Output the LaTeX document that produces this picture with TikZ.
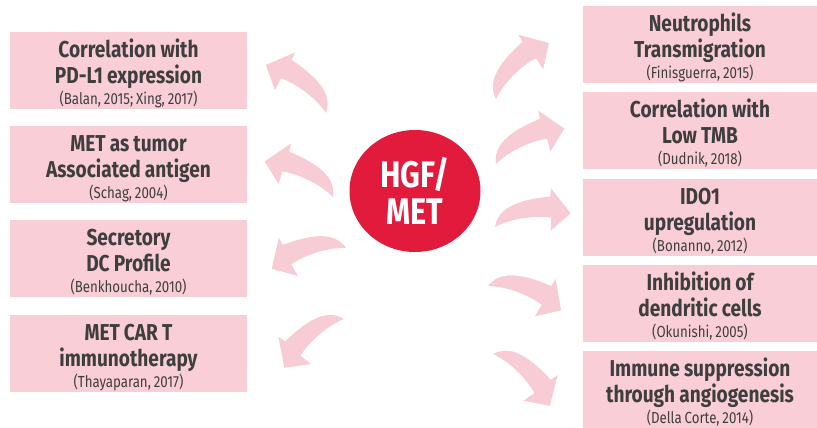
\documentclass[tikz,border=0pt]{standalone}
\usepackage{fontspec}
\setmainfont{Fira Sans}[FakeStretch=0.83]
\usetikzlibrary{shapes.geometric}
\definecolor{mpink}{RGB}{249, 206, 214}
\definecolor{marrow}{RGB}{248, 204, 212}
\definecolor{mred}{RGB}{226, 27, 60}
\definecolor{mgray}{RGB}{62, 62, 62}
\newcommand{\narrowspace}{\spaceskip=0.18em\relax}
\newcommand{\reftext}[1]{{\fontsize{16}{16}\selectfont\mdseries\narrowspace #1}}
\tikzset{card/.style = {fill=mpink, inner sep=0pt, text=mgray, align=center,
                        text width=230pt, minimum width=237pt,
                        text height=25.3pt, text depth=51.7pt,
                        font=\fontsize{23}{26}\selectfont\bfseries},
         hub/.style = {ellipse, fill=mred, text=white, inner sep=0pt, align=center,
                       minimum width=131pt, minimum height=122pt,
                       font=\fontsize{37}{37}\selectfont\bfseries}}

\begin{document}
\begin{tikzpicture}[x=1pt, y=1pt]
    \useasboundingbox (0, 0) rectangle (817, -428);

    % bent arrows, tail at (x,y), turned by a, s=-1 flips the bulge
    \foreach \x/\y/\a/\s in {496/99/46.7/1, 496/164/27.4/1, 495/227/10.4/1,
                             488/286/-18.4/1, 493/354/-42.4/1,
                             326/113/141.4/-1, 333/197/152.4/-1,
                             346/248/195.6/-1, 344/319/219.3/-1} {
      \fill [marrow, shift={(\x, -\y)}, rotate=\a, yscale=\s]
        (0, 0) .. controls (6, 17) and (24, 23) .. (60, 20) -- (62, 28) -- (77, 0)
        -- (54, -14) -- (57, -1) .. controls (40, 5) and (15, 5) .. (0, 0) -- cycle;
    }

    \node [hub] (hgf) at (415, -191) {HGF/\\MET};

    % left column
    \foreach \n/\y/\a/\b/\c in {1/70.5/{Correlation with}/{PD-L1 expression}/{(Balan, 2015; Xing, 2017)},
                                2/164.5/{MET as tumor}/{Associated antigen}/{(Schag, 2004)},
                                3/258.5/{Secretory}/{DC Profile}/{(Benkhoucha, 2010)},
                                4/353.5/{MET CAR T}/{immunotherapy}/{(Thayaparan, 2017)}} {
      \node [card] (left\n) at (128.5, -\y) {\narrowspace\a\\\b\\[-4.5pt]\reftext{\c}};
    }

    % right column
    \foreach \n/\y/\a/\b/\c in {1/44.5/{Neutrophils}/{Transmigration}/{(Finisguerra, 2015)},
                                2/130.5/{Correlation with}/{Low TMB}/{(Dudnik, 2018)},
                                3/217.5/{IDO1}/{upregulation}/{(Bonanno, 2012)},
                                4/303.5/{Inhibition of}/{dendritic cells}/{(Okunishi, 2005)},
                                5/389.5/{Immune suppression}/{through angiogenesis}/{(Della Corte, 2014)}} {
      \node [card, minimum width=234pt] (right\n) at (700, -\y) {\narrowspace\a\\\b\\[-4.5pt]\reftext{\c}};
    }
  \end{tikzpicture}
\end{document}
